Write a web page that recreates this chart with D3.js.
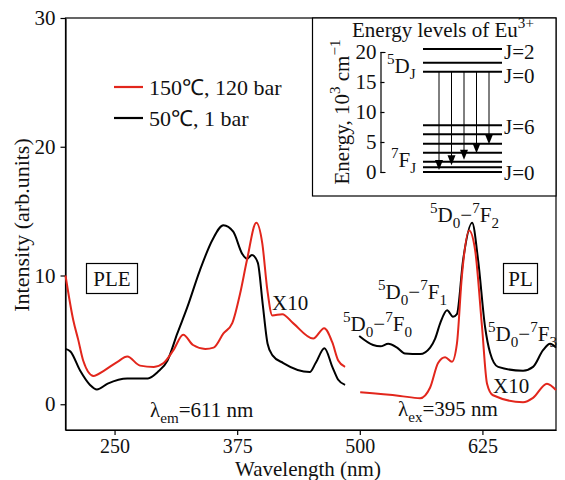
<!DOCTYPE html>
<html>
<head>
<meta charset="utf-8">
<script src="https://d3js.org/d3.v7.min.js"></script>
<style>
  body { margin: 0; background: #fff; }
  svg text { font-family: "Liberation Serif", serif; fill: #111; }
  .axis path, .axis line { fill: none; stroke: #000; stroke-width: 1.2; }
  .axis text { font-size: 21px; font-family: "Liberation Serif", serif; }
</style>
</head>
<body>
<script>
// PLE spectra (excitation, left part)
var pleRedWl   = [200, 208, 213, 218, 228.5, 239, 253, 263, 276, 290, 300, 310, 320, 330, 342.5, 351, 361, 370, 378, 385, 394.5, 400.6, 405.7, 410.8, 421, 432, 452.5, 463.7, 472, 478, 485];
var pleRedI    = [10.0, 6.5, 5.0, 3.4, 2.2, 2.6, 3.3, 3.7, 3.0, 2.9, 3.2, 4.2, 5.4, 4.6, 4.3, 4.4, 5.5, 6.3, 8.6, 11.2, 14.1, 12.5, 8.9, 6.9, 7.0, 6.3, 5.1, 5.9, 4.8, 3.4, 2.9];
var pleBlackWl = [200, 205, 215, 225, 232, 243, 263, 284, 294, 304, 314, 324, 337, 350, 361, 371, 380, 385, 390, 396, 401, 406, 411, 422, 449, 455, 464, 472, 478, 485];
var pleBlackI  = [4.3, 4.1, 2.6, 1.5, 1.15, 1.6, 2.0, 2.0, 2.5, 3.4, 5.5, 7.5, 10.4, 12.8, 13.9, 13.4, 11.7, 11.3, 11.6, 11.0, 7.8, 4.7, 3.8, 3.2, 2.5, 3.2, 4.35, 2.9, 1.9, 1.5];
// PL spectra (emission, right part)
var plRedWl    = [500.4, 541, 561.5, 571.7, 579.8, 587, 594, 599, 604, 611.4, 617.5, 624.6, 629.7, 635.8, 666.4, 676.6, 690.8, 700];
var plRedI     = [0.93, 0.65, 0.47, 1.3, 3.2, 3.65, 3.3, 4.7, 9.9, 13.5, 12.0, 6.0, 1.6, 0.7, 0.16, 0.5, 1.6, 1.1];
var plBlackWl  = [499.4, 513.6, 521, 529, 538, 546, 561.5, 571.7, 576.8, 582, 589, 595, 599, 605.3, 614.5, 620.6, 627.7, 632.8, 641, 666.4, 676.6, 686.8, 694, 700];
var plBlackI   = [5.3, 4.6, 4.5, 4.7, 4.4, 3.95, 3.9, 4.4, 5.1, 6.3, 7.3, 6.8, 7.0, 11.2, 14.1, 11.2, 6.0, 4.0, 2.9, 2.6, 2.9, 4.2, 4.7, 4.4];

var xTicks = [250, 375, 500, 625];
var yTicks = [0, 10, 20, 30];
var seriesNames = ["150\u2103, 120 bar", "50\u2103, 1 bar"];
var seriesColors = ["#e2261c", "#000000"];

// inset: Eu3+ energy levels (10^3 cm^-1)
var dLevels = [16.7, 18.2, 20.5];
var fLevels = [0, 0.8, 1.7, 3.2, 4.7, 6.3, 7.8];
var arrowEnds = [0.5, 1.3, 2.2, 3.3, 4.8];
var energyTicks = [0, 5, 10, 15, 20];

var W = 565, H = 480;
var svg = d3.select("body").append("svg").attr("width", W).attr("height", H);

var x = d3.scaleLinear().domain([200, 700]).range([65.5, 556]);
var y = d3.scaleLinear().domain([-2, 30]).range([430, 18]);

// axes
svg.append("g").attr("class", "axis")
  .attr("transform", "translate(0,430)")
  .call(d3.axisBottom(x).tickValues(xTicks).tickSize(5).tickPadding(4).tickSizeOuter(0))
  .selectAll("text").attr("fill", "#111").style("font-size", "20px");
svg.append("g").attr("class", "axis")
  .attr("transform", "translate(65.5,0)")
  .call(d3.axisLeft(y).tickValues(yTicks).tickSize(5).tickPadding(5).tickSizeOuter(0))
  .selectAll("text").attr("fill", "#111");

// frame
svg.append("rect").attr("x", 65.5).attr("y", 18).attr("width", 490.5).attr("height", 412)
  .attr("fill", "none").attr("stroke", "#000").attr("stroke-width", 1.2);

svg.append("text").attr("x", 308).attr("y", 476).attr("text-anchor", "middle")
  .style("font-size", "21px").text("Wavelength (nm)");
svg.append("text").attr("transform", "translate(29,225) rotate(-90)").attr("text-anchor", "middle")
  .style("font-size", "22px").text("Intensity (arb.units)");

// curves
var line = d3.line().curve(d3.curveMonotoneX)
  .x(function(d) { return x(d[0]); })
  .y(function(d) { return y(d[1]); });

function drawCurve(wl, vals, color) {
  svg.append("path").datum(d3.zip(wl, vals))
    .attr("d", line).attr("fill", "none")
    .attr("stroke", color).attr("stroke-width", 2);
}
drawCurve(pleBlackWl, pleBlackI, seriesColors[1]);
drawCurve(pleRedWl, pleRedI, seriesColors[0]);
drawCurve(plBlackWl, plBlackI, seriesColors[1]);
drawCurve(plRedWl, plRedI, seriesColors[0]);

// legend
seriesNames.forEach(function(name, i) {
  var ly = 87 + i * 31;
  svg.append("line").attr("x1", 114).attr("x2", 143).attr("y1", ly).attr("y2", ly)
    .attr("stroke", seriesColors[i]).attr("stroke-width", 2.2);
  svg.append("text").attr("x", 149).attr("y", ly + 8).style("font-size", "22px").text(name);
});

// rich text with sub/superscripts
function rich(xp, yp, parts, size) {
  var t = svg.append("text").attr("x", xp).attr("y", yp).style("font-size", size + "px");
  var shift = 0;
  parts.forEach(function(p) {
    var target = p[1] === "sup" ? -0.42 * size : (p[1] === "sub" ? 0.3 * size : 0);
    var fs = p[1] === "n" ? size : 0.72 * size;
    t.append("tspan").attr("dy", target - shift).style("font-size", fs + "px").text(p[0]);
    shift = target;
  });
  return t;
}
function transition(n) {
  return [["5", "sup"], ["D", "n"], ["0", "sub"], ["\u2212", "n"], ["7", "sup"], ["F", "n"], [n, "sub"]];
}

rich(430, 222, transition("2"), 21);
rich(378, 299, transition("1"), 21);
rich(343, 331, transition("0"), 21);
rich(488, 341, transition("3"), 21);
rich(150, 417, [["\u03bb", "n"], ["em", "sub"], ["=611 nm", "n"]], 21);
rich(398, 416, [["\u03bb", "n"], ["ex", "sub"], ["=395 nm", "n"]], 21);

svg.append("text").attr("x", 272).attr("y", 310).style("font-size", "21px").text("X10");
svg.append("text").attr("x", 493).attr("y", 393).style("font-size", "21px").text("X10");

// boxed labels
function boxLabel(x0, y0, w, h, txt) {
  svg.append("rect").attr("x", x0).attr("y", y0).attr("width", w).attr("height", h)
    .attr("fill", "none").attr("stroke", "#000").attr("stroke-width", 1.2);
  svg.append("text").attr("x", x0 + w / 2).attr("y", y0 + h / 2 + 7)
    .attr("text-anchor", "middle").style("font-size", "21px").text(txt);
}
boxLabel(86.5, 263.5, 51, 30, "PLE");
boxLabel(503.5, 263.5, 34, 30, "PL");

// ---------- inset ----------
svg.append("rect").attr("x", 312.5).attr("y", 18).attr("width", 243.5).attr("height", 178)
  .attr("fill", "#fff").attr("stroke", "#000").attr("stroke-width", 1.2);

var ey = d3.scaleLinear().domain([0, 20]).range([172, 52]);
var lx = d3.scaleLinear().domain([0, 1]).range([423, 502]);
var ax = d3.scalePoint().domain(d3.range(arrowEnds.length)).range([439, 489]);

var eAxis = svg.append("g").attr("class", "axis")
  .attr("transform", "translate(380.5,0)")
  .call(d3.axisLeft(ey).tickValues(energyTicks).tickSizeInner(-4).tickSizeOuter(-5).tickPadding(4));
eAxis.selectAll("text").attr("fill", "#111").style("font-size", "21px");

rich(352, 37, [["Energy levels of Eu", "n"], ["3+", "sup"]], 21);
rich(0, 0, [["Energy, 10", "n"], ["3", "sup"], [" cm", "n"], ["\u22121", "sup"]], 21)
  .attr("transform", "translate(349,112) rotate(-90)").attr("text-anchor", "middle");

dLevels.concat(fLevels).forEach(function(v) {
  svg.append("line").attr("x1", lx(0)).attr("x2", lx(1)).attr("y1", ey(v)).attr("y2", ey(v))
    .attr("stroke", "#000").attr("stroke-width", 2);
});

arrowEnds.forEach(function(v, i) {
  var xa = ax(i), yt = ey(v), ys = ey(dLevels[0]);
  svg.append("line").attr("x1", xa).attr("x2", xa).attr("y1", ys).attr("y2", yt - 7)
    .attr("stroke", "#000").attr("stroke-width", 1);
  svg.append("path")
    .attr("d", "M" + (xa - 4) + "," + (yt - 9) + "L" + (xa + 4) + "," + (yt - 9) + "L" + xa + "," + (yt + 1) + "Z")
    .attr("fill", "#000");
});

rich(387, 73, [["5", "sup"], ["D", "n"], ["J", "sub"]], 21);
rich(391, 167, [["7", "sup"], ["F", "n"], ["J", "sub"]], 21);
[["J=2", 59], ["J=0", 83], ["J=6", 134], ["J=0", 180]].forEach(function(j) {
  svg.append("text").attr("x", 504).attr("y", j[1]).style("font-size", "21px").text(j[0]);
});
</script>
</body>
</html>
